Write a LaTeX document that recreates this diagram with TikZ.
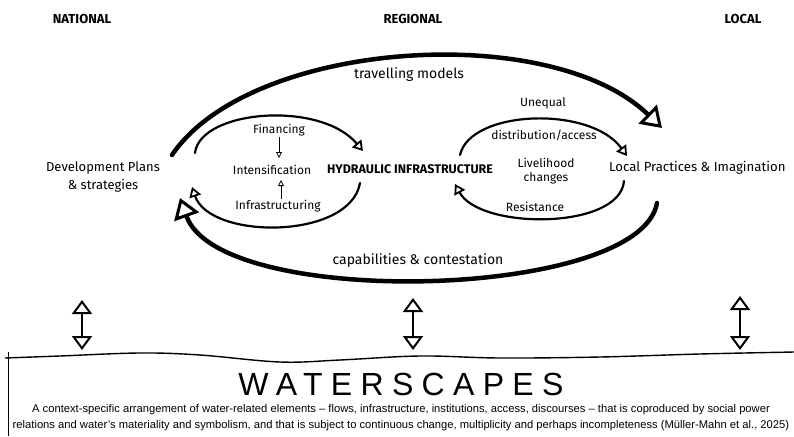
\documentclass[tikz,border=0pt]{standalone}
\usepackage{fontspec}
\setmainfont{Fira Sans}
\newfontfamily\capfont{Liberation Sans}
\usetikzlibrary{arrows.meta}

\tikzset{
    lvl/.style={font=\bfseries\fontsize{13}{15}\selectfont, inner sep=1pt},
    lbl/.style={font=\fontsize{12.5}{17}\selectfont, align=center, inner sep=1pt},
    sml/.style={font=\fontsize{12}{14}\selectfont, inner sep=1pt},
    bigarc/.style={line width=4.5pt, line cap=round, -{Triangle[open, length=20pt, width=26pt, line width=3pt]}},
    looparc/.style={line width=2.2pt, line cap=round, -{Triangle[open, length=10pt, width=12pt, line width=1.8pt]}},
    smallarr/.style={line width=0.8pt, -{Triangle[open, length=6pt, width=6pt]}},
    twoway/.style={line width=2.5pt, {Triangle[open, length=14pt, width=20pt, line width=2pt]}-{Triangle[open, length=14pt, width=20pt, line width=2pt]}}
}

\begin{document}
\begin{tikzpicture}[x=1pt, y=-1pt]
    \useasboundingbox (0,0) rectangle (794,436);

    \node[lvl] (national) at (82,19) {NATIONAL};
    \node[lvl] (regional) at (413,19) {REGIONAL};
    \node[lvl] (local) at (743,19) {LOCAL};

    \node[lbl, font=\fontsize{13}{18}\selectfont] (plans) at (103,177) {Development Plans\\\& strategies};
    \node[lbl, font=\bfseries\fontsize{12.5}{14}\selectfont] (hydro) at (410,169) {HYDRAULIC INFRASTRUCTURE};
    \node[lbl, anchor=west, font=\fontsize{13.2}{16}\selectfont] (practices) at (608,168) {Local Practices \& Imagination};

    \node[sml] (fin) at (279,130) {Financing};
    \node[sml] (int) at (272,170) {Intensification};
    \node[sml] (infra) at (278,206) {Infrastructuring};
    \draw [smallarr] (fin.south -| 279,0) -- (279,158);
    \draw [smallarr] (infra.north -| 281,0) -- (281,180);

    \node[sml] (uneq) at (543,103) {Unequal};
    \node[sml] (distr) at (544,135) {distribution/access};
    \node[sml, align=center] (liveli) at (546,171) {Livelihood\\changes};
    \node[sml] (resist) at (535,207) {Resistance};

    \node[lbl, font=\fontsize{14}{16}\selectfont] (travel) at (409,75) {travelling models};
    \node[lbl, font=\fontsize{14}{16}\selectfont] (capab) at (418,261) {capabilities \& contestation};

    \coordinate (bigA) at (172,155);
    \coordinate (bigB) at (662,128);
    \coordinate (bigC) at (657,203);
    \coordinate (bigD) at (180,198);
    \draw [bigarc] (bigA) .. controls (250,40) and (550,20) .. (bigB);
    \draw [bigarc] (bigC) .. controls (640,300) and (220,310) .. (bigD);

    \coordinate (leftA) at (195,153);
    \coordinate (leftB) at (363,151);
    \coordinate (leftC) at (360,183);
    \coordinate (leftD) at (192,187);
    \draw [looparc] (leftA) .. controls (200,110) and (320,100) .. (leftB);
    \draw [looparc] (leftC) .. controls (350,240) and (210,240) .. (leftD);

    \coordinate (rightA) at (460,155);
    \coordinate (rightB) at (627,156);
    \coordinate (rightC) at (624,181);
    \coordinate (rightD) at (455,184);
    \draw [looparc] (rightA) .. controls (470,110) and (590,105) .. (rightB);
    \draw [looparc] (rightC) .. controls (620,230) and (480,230) .. (rightD);

    \coordinate (natT) at (82,300);
    \coordinate (natB) at (82,350);
    \coordinate (regT) at (413,298);
    \coordinate (regB) at (413,350);
    \coordinate (locT) at (740,296);
    \coordinate (locB) at (740,350);
    \draw [twoway] (natT) -- (natB);
    \draw [twoway] (regT) -- (regB);
    \draw [twoway] (locT) -- (locB);

    \draw [line width=1.4pt] plot[smooth, tension=.6] coordinates {(5,358) (60,356) (140,353) (200,355) (280,362) (340,360) (420,356) (500,358) (600,357) (700,354) (794,352)};
    \draw [line width=1pt] (8,352) -- (8,436);

    \node[inner sep=0pt, font=\capfont\fontsize{32}{34}\selectfont\addfontfeature{LetterSpace=26}] (water) at (401,384) {WATERSCAPES};
    \node[font=\capfont\fontsize{11.2}{16}\selectfont, align=center, inner sep=0pt] (caption) at (401,418) {A context-specific arrangement of water-related elements – flows, infrastructure, institutions, access, discourses – that is coproduced by social power\\relations and water’s materiality and symbolism, and that is subject to continuous change, multiplicity and perhaps incompleteness (Müller-Mahn et al., 2025)};
\end{tikzpicture}
\end{document}
